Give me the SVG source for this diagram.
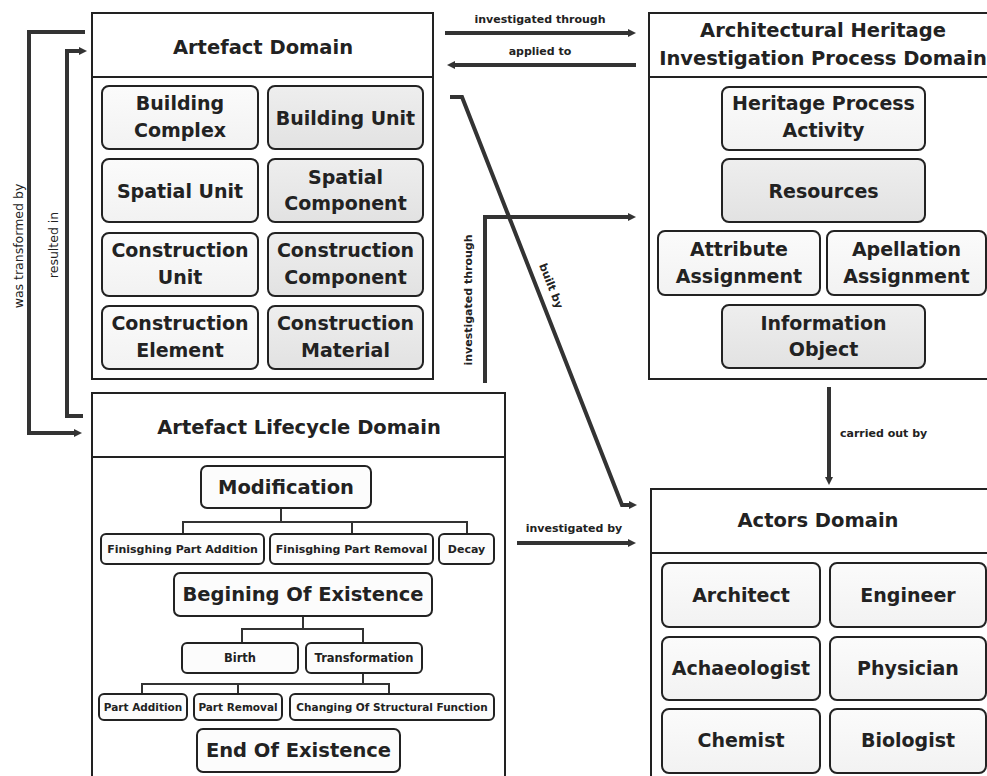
<svg xmlns="http://www.w3.org/2000/svg" width="987" height="776" viewBox="0 0 987 776">
<defs>
<linearGradient id="gLight" x1="0" y1="0" x2="0" y2="1"><stop offset="0" stop-color="#fbfbfb"/><stop offset="1" stop-color="#f2f2f2"/></linearGradient>
<linearGradient id="gDark" x1="0" y1="0" x2="0" y2="1"><stop offset="0" stop-color="#eeeeee"/><stop offset="1" stop-color="#e2e2e2"/></linearGradient>
<marker id="arr" viewBox="0 0 8 8" refX="2" refY="4" markerWidth="8" markerHeight="8" markerUnits="userSpaceOnUse" orient="auto"><path d="M0,0 L8,4 L0,8 z" fill="#333"/></marker>
</defs>
<style>
text{font-family:"DejaVu Sans","Liberation Sans",sans-serif;fill:#222;text-anchor:middle;dominant-baseline:central}
.dom{fill:#fff;stroke:#222;stroke-width:2}
.sep{stroke:#222;stroke-width:2}
.t{font-size:19.5px;font-weight:bold}
.b{font-size:19px;font-weight:bold}
.lt{fill:url(#gLight);stroke:#222;stroke-width:2}
.dk{fill:url(#gDark);stroke:#222;stroke-width:2}
.wh{fill:#fcfcfc;stroke:#222;stroke-width:2}
.s1{font-size:11px;font-weight:bold}
.s2{font-size:11.5px;font-weight:bold}
.s3{font-size:10.5px;font-weight:bold}
.tree{fill:none;stroke:#333;stroke-width:2}
.con{fill:none;stroke:#333;stroke-width:4;marker-end:url(#arr)}
.lab{font-size:11px;font-weight:bold}
.labn{font-size:12.5px}
</style>

<g id="artefact-domain">
<rect class="dom" x="92" y="13" width="341" height="366"/>
<line class="sep" x1="92" y1="77" x2="433" y2="77"/>
<text class="t" x="263" y="47">Artefact Domain</text>
<g id="building-complex"><rect class="lt" x="102" y="86" width="156" height="63" rx="7"/><text class="b" x="180" y="103">Building</text><text class="b" x="180" y="130">Complex</text></g>
<g id="building-unit"><rect class="dk" x="268" y="86" width="155" height="63" rx="7"/><text class="b" x="345.5" y="117.5">Building Unit</text></g>
<g id="spatial-unit"><rect class="lt" x="102" y="159" width="156" height="63" rx="7"/><text class="b" x="180" y="190.5">Spatial Unit</text></g>
<g id="spatial-component"><rect class="dk" x="268" y="159" width="155" height="63" rx="7"/><text class="b" x="345.5" y="177">Spatial</text><text class="b" x="345.5" y="203">Component</text></g>
<g id="construction-unit"><rect class="lt" x="102" y="233" width="156" height="63" rx="7"/><text class="b" x="180" y="250">Construction</text><text class="b" x="180" y="277">Unit</text></g>
<g id="construction-component"><rect class="dk" x="268" y="233" width="155" height="63" rx="7"/><text class="b" x="345.5" y="250">Construction</text><text class="b" x="345.5" y="277">Component</text></g>
<g id="construction-element"><rect class="lt" x="102" y="306" width="156" height="63" rx="7"/><text class="b" x="180" y="323">Construction</text><text class="b" x="180" y="350">Element</text></g>
<g id="construction-material"><rect class="dk" x="268" y="306" width="155" height="63" rx="7"/><text class="b" x="345.5" y="323">Construction</text><text class="b" x="345.5" y="350">Material</text></g>
</g>

<g id="investigation-process-domain">
<rect class="dom" x="649" y="13" width="350" height="366"/>
<line class="sep" x1="649" y1="77" x2="999" y2="77"/>
<text class="t" x="823" y="30">Architectural Heritage</text>
<text class="t" x="823" y="58">Investigation Process Domain</text>
<g id="heritage-process-activity"><rect class="lt" x="722" y="87" width="203" height="63" rx="7"/><text class="b" x="823.5" y="103">Heritage Process</text><text class="b" x="823.5" y="130">Activity</text></g>
<g id="resources"><rect class="dk" x="722" y="159" width="203" height="63" rx="7"/><text class="b" x="823.5" y="190.5">Resources</text></g>
<g id="attribute-assignment"><rect class="lt" x="658" y="231" width="162" height="64" rx="7"/><text class="b" x="739" y="249">Attribute</text><text class="b" x="739" y="276">Assignment</text></g>
<g id="apellation-assignment"><rect class="lt" x="827" y="231" width="159" height="64" rx="7"/><text class="b" x="906.5" y="249">Apellation</text><text class="b" x="906.5" y="276">Assignment</text></g>
<g id="information-object"><rect class="dk" x="722" y="305" width="203" height="63" rx="7"/><text class="b" x="823.5" y="323">Information</text><text class="b" x="823.5" y="349">Object</text></g>
</g>

<g id="lifecycle-domain">
<rect class="dom" x="92" y="393" width="413" height="400"/>
<line class="sep" x1="92" y1="457" x2="505" y2="457"/>
<text class="t" x="299" y="427">Artefact Lifecycle Domain</text>
<g id="tree-lines">
<path class="tree" d="M281,508 V522 M183,534 V522 H467 V534 M352,522 V534"/>
<path class="tree" d="M303,616 V629 M242,643 V629 H363 V643"/>
<path class="tree" d="M363,673 V684 M142,694 V684 H389 V694 M238,684 V694"/>
</g>
<g id="modification"><rect class="wh" x="201" y="466" width="170" height="42" rx="6"/><text class="t" x="286" y="487">Modification</text></g>
<g id="finishing-part-addition"><rect class="wh" x="101" y="534" width="163" height="30" rx="5"/><text class="s1" x="182.5" y="549">Finisghing Part Addition</text></g>
<g id="finishing-part-removal"><rect class="wh" x="270" y="534" width="163" height="30" rx="5"/><text class="s1" x="351.5" y="549">Finisghing Part Removal</text></g>
<g id="decay"><rect class="wh" x="439" y="534" width="55" height="30" rx="5"/><text class="s1" x="466.5" y="549">Decay</text></g>
<g id="begining-of-existence"><rect class="wh" x="174" y="573" width="258" height="43" rx="6"/><text class="t" x="303" y="594">Begining Of Existence</text></g>
<g id="birth"><rect class="wh" x="182" y="643" width="116" height="30" rx="5"/><text class="s2" x="240" y="658">Birth</text></g>
<g id="transformation"><rect class="wh" x="306" y="643" width="116" height="30" rx="5"/><text class="s2" x="364" y="658">Transformation</text></g>
<g id="part-addition"><rect class="wh" x="99" y="694" width="88" height="26" rx="5"/><text class="s3" x="143" y="707">Part Addition</text></g>
<g id="part-removal"><rect class="wh" x="194" y="694" width="88" height="26" rx="5"/><text class="s3" x="238" y="707">Part Removal</text></g>
<g id="changing-structural-function"><rect class="wh" x="290" y="694" width="204" height="26" rx="5"/><text class="s3" x="392" y="707">Changing Of Structural Function</text></g>
<g id="end-of-existence"><rect class="wh" x="197" y="729" width="203" height="43" rx="6"/><text class="t" x="298.5" y="750">End Of Existence</text></g>
</g>

<g id="actors-domain">
<rect class="dom" x="651" y="489" width="350" height="320"/>
<line class="sep" x1="651" y1="553" x2="1001" y2="553"/>
<text class="t" x="818" y="520">Actors Domain</text>
<g id="architect"><rect class="lt" x="662" y="563" width="158" height="64" rx="7"/><text class="b" x="741" y="595">Architect</text></g>
<g id="engineer"><rect class="lt" x="830" y="563" width="156" height="64" rx="7"/><text class="b" x="908" y="595">Engineer</text></g>
<g id="achaeologist"><rect class="lt" x="662" y="637" width="158" height="63" rx="7"/><text class="b" x="741" y="668">Achaeologist</text></g>
<g id="physician"><rect class="lt" x="830" y="637" width="156" height="63" rx="7"/><text class="b" x="908" y="668">Physician</text></g>
<g id="chemist"><rect class="lt" x="662" y="709" width="158" height="64" rx="7"/><text class="b" x="741" y="740">Chemist</text></g>
<g id="biologist"><rect class="lt" x="830" y="709" width="156" height="64" rx="7"/><text class="b" x="908" y="740">Biologist</text></g>
</g>

<g id="connectors">
<path class="con" d="M445,33 H630"/>
<path class="con" d="M636,65 H453"/>
<path class="con" d="M450,97 H462 L622,505 H631"/>
<path class="con" d="M485,383 V217 H630"/>
<path class="con" d="M517,543 H630"/>
<path class="con" d="M829,387 V479"/>
<path class="con" d="M85,32 H29 V433 H76"/>
<path class="con" d="M83,416 H67 V51 H81"/>
<text class="lab" x="540" y="19">investigated through</text>
<text class="lab" x="540" y="51">applied to</text>
<text class="lab" transform="translate(468,300) rotate(-90)">investigated through</text>
<text class="lab" transform="translate(551,286) rotate(68.6)">built by</text>
<text class="lab" x="574" y="528">investigated by</text>
<text class="lab" x="840" y="433" style="text-anchor:start">carried out by</text>
<text class="labn" transform="translate(18,246) rotate(-90)">was transformed by</text>
<text class="labn" transform="translate(53,245) rotate(-90)">resulted in</text>
</g>
</svg>
